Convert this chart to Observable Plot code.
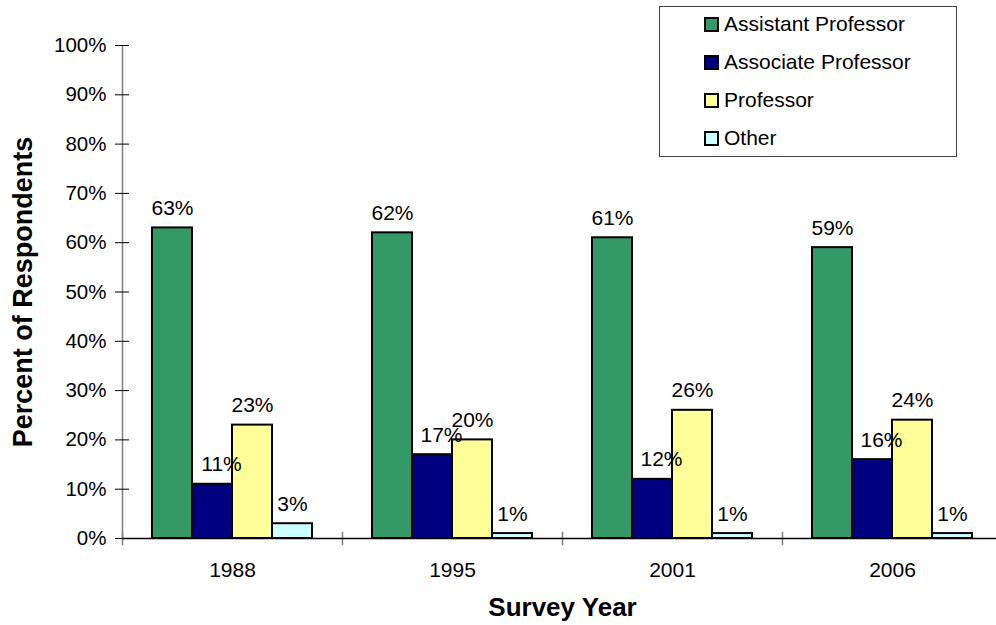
<!DOCTYPE html>
<html>
<head>
<meta charset="utf-8">
<script src="https://cdn.jsdelivr.net/npm/d3@7"></script>
<script src="https://cdn.jsdelivr.net/npm/@observablehq/plot@0.6"></script>
<style>
  html, body { margin: 0; padding: 0; background: #fff; }
  #wrap { position: relative; width: 996px; height: 625px; font-family: Arial, "Liberation Sans", sans-serif; }
  #legend { position: absolute; left: 659px; top: 6px; width: 298px; height: 151px; border: 1px solid #444; background: #fff; box-sizing: border-box; }
  #rows { position: relative; top: -2px; }
  .row { display: flex; align-items: center; height: 38px; padding-left: 44px; font-size: 21px; color: #000; }
  .sw { width: 11px; height: 11px; border: 2px solid #000; margin-right: 5px; }
</style>
</head>
<body>
<div id="wrap"><div id="chart"></div><div id="legend"><div id="rows"></div></div></div>
<script>
const years = ["1988", "1995", "2001", "2006"];
const series = ["Assistant Professor", "Associate Professor", "Professor", "Other"];
const assistant = [63, 62, 61, 59];
const associate = [11, 17, 12, 16];
const professor = [23, 20, 26, 24];
const other = [3, 1, 1, 1];
const colors = ["#339966", "#000080", "#FFFF99", "#CCFFFF"];
const yTicks = [0, 10, 20, 30, 40, 50, 60, 70, 80, 90, 100];

const values = [assistant, associate, professor, other];
const data = years.flatMap((yr, i) => series.map((s, j) => ({year: yr, series: s, value: values[j][i]})));

const font = "Arial, 'Liberation Sans', sans-serif";

const chart = Plot.plot({
  width: 996,
  height: 625,
  marginTop: 45,
  marginBottom: 87,
  marginLeft: 120,
  marginRight: -7,
  style: {fontFamily: font, color: "#000", background: "#fff"},
  fx: {domain: years, padding: 0, label: null},
  x: {domain: series, paddingInner: 0, paddingOuter: 0.75, axis: null},
  y: {domain: [0, 100], axis: null},
  color: {domain: series, range: colors},
  marks: [
    Plot.frame({anchor: "left", facetAnchor: "left", stroke: "#808080", strokeWidth: 1.5}),
    Plot.frame({anchor: "left", stroke: "#808080", strokeWidth: 1.5, insetTop: 487, insetBottom: -6}),
    Plot.axisY({ticks: yTicks, tickSize: 14, dx: 7, tickPadding: 9, tickFormat: d => d + "%", fontSize: 20.5, label: null, stroke: "#000"}),
    Plot.axisY({ticks: [], label: "Percent of Respondents", labelArrow: false, labelAnchor: "center", labelOffset: 110, fontSize: 27, fontWeight: "bold"}),
    Plot.axisFx({anchor: "bottom", tickSize: 0, tickPadding: 24, fontSize: 21, label: null}),
    Plot.axisFx({anchor: "bottom", ticks: [], label: "Survey Year", labelArrow: false, labelAnchor: "center", labelOffset: 77, fontSize: 26, fontWeight: "bold"}),
    Plot.barY(data, {fx: "year", x: "series", y: "value", fill: "series", stroke: "#000", strokeWidth: 2}),
    Plot.ruleY([0], {stroke: "#000", strokeWidth: 1.5}),
    Plot.text(data.filter(d => d.series !== series[1]), {fx: "year", x: "series", y: "value", text: d => d.value + "%", lineAnchor: "bottom", dy: -13, fontSize: 21}),
    Plot.text(data.filter(d => d.series === series[1]), {fx: "year", x: "series", y: "value", text: d => d.value + "%", lineAnchor: "bottom", dy: -13, dx: 9, fontSize: 21})
  ]
});
document.getElementById("chart").append(chart);

const rows = d3.select("#rows");
series.forEach((s, j) => {
  const row = rows.append("div").attr("class", "row");
  row.append("div").attr("class", "sw").style("background", colors[j]);
  row.append("span").text(s);
});
</script>
</body>
</html>
